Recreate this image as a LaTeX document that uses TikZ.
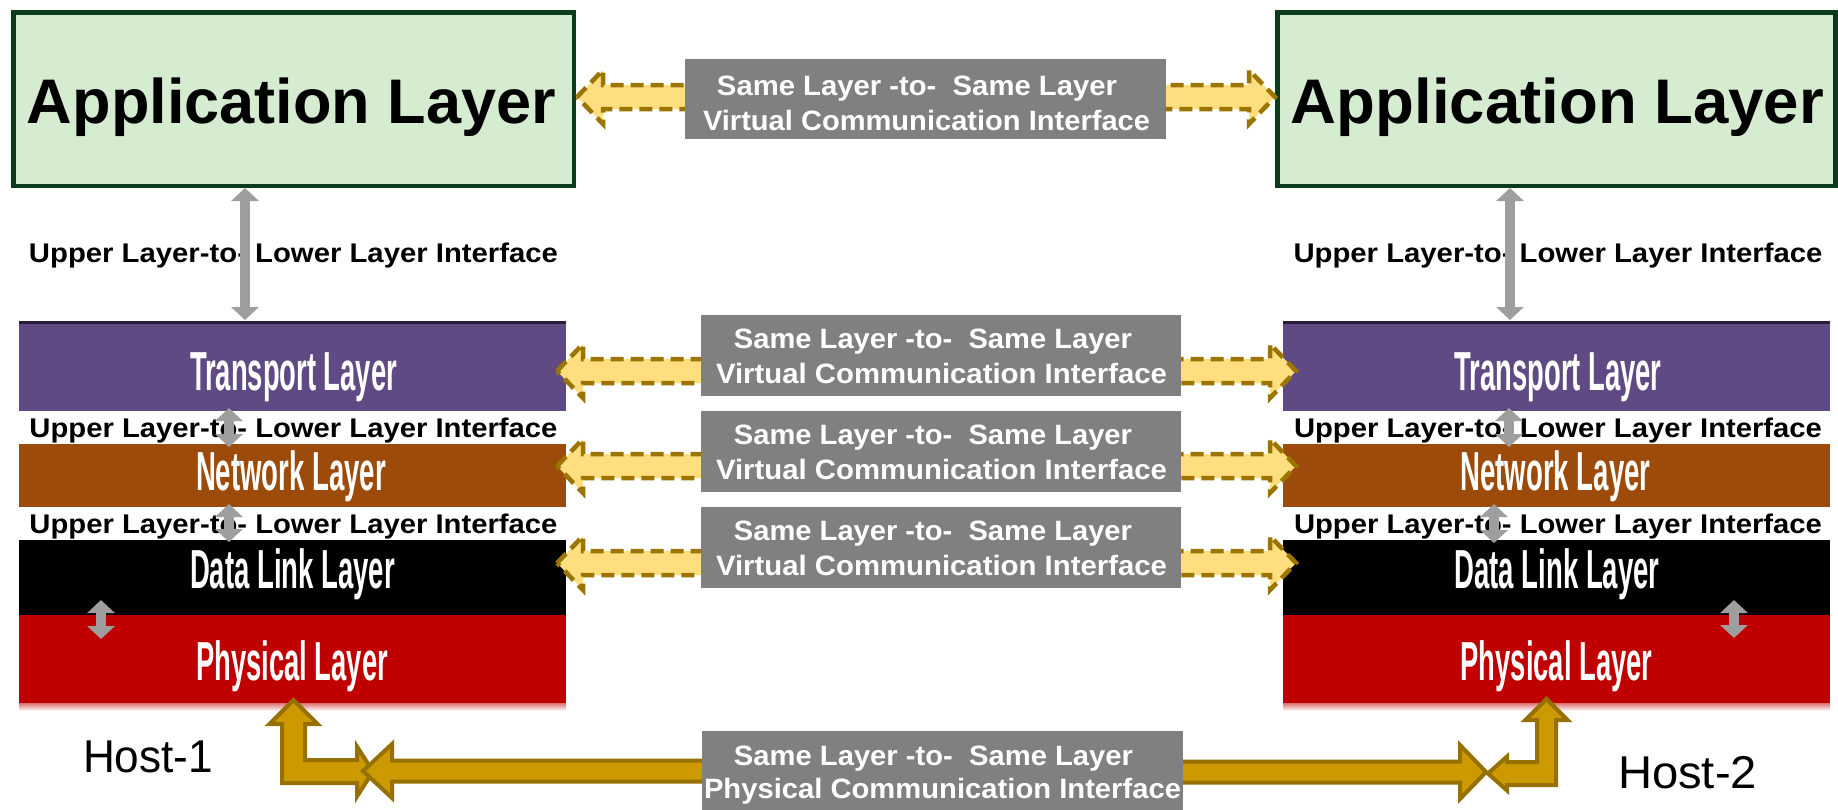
\documentclass[tikz,border=0pt]{standalone}
\usepackage{fontspec}
\setmainfont{Liberation Sans}
\usepackage{graphicx}
\usetikzlibrary{arrows.meta}

\definecolor{appfill}{RGB}{213,236,209}
\definecolor{appdraw}{RGB}{12,58,28}
\definecolor{transcol}{RGB}{96,74,132}
\definecolor{transedge}{RGB}{40,30,60}
\definecolor{netcol}{RGB}{157,75,10}
\definecolor{physcol}{RGB}{192,0,0}
\definecolor{tagcol}{RGB}{128,128,128}
\definecolor{linkgray}{RGB}{158,158,158}
\definecolor{virtfill}{RGB}{255,222,128}
\definecolor{virtdraw}{RGB}{155,117,0}
\definecolor{physfill}{RGB}{204,153,0}
\definecolor{physdraw}{RGB}{150,112,0}

% stretch a text horizontally to a given width, keeping its height
\newcommand\wfit[2]{\resizebox{#1}{\height}{#2}}

% dashed block arrow between two tips on one horizontal line
\newcommand\virtlink[2]{%
  \draw[virt] (#1) -- ([shift={(26,-27)}]#1) -- ([shift={(26,-12)}]#1)
    -- ([shift={(-26,-12)}]#2) -- ([shift={(-26,-27)}]#2) -- (#2)
    -- ([shift={(-26,27)}]#2) -- ([shift={(-26,12)}]#2)
    -- ([shift={(26,12)}]#1) -- ([shift={(26,27)}]#1) -- cycle;}

\begin{document}
\begin{tikzpicture}[x=1pt,y=-1pt,
  slab/.style={inner sep=0pt, outer sep=0pt, anchor=north west, draw=none},
  appbox/.style={draw=appdraw, line width=4.5pt, fill=appfill, inner sep=0pt, outer sep=0pt, anchor=north west},
  apptext/.style={font=\bfseries\fontsize{63}{63}\selectfont, inner sep=0pt, anchor=base},
  iface/.style={font=\bfseries\fontsize{27}{27}\selectfont, inner sep=0pt, anchor=base},
  layertext/.style={font=\bfseries\fontsize{55}{55}\selectfont, text=white, inner sep=0pt, anchor=base},
  tag/.style={fill=tagcol, inner sep=0pt, outer sep=0pt, anchor=north west},
  tagtext/.style={font=\bfseries\fontsize{28}{28}\selectfont, text=white, inner sep=0pt, anchor=base},
  updown/.style={draw=linkgray, line width=10pt, {Triangle[width=27pt,length=13pt]}-{Triangle[width=27pt,length=13pt]}},
  virt/.style={fill=virtfill, draw=virtdraw, line width=4.5pt, dash pattern=on 13pt off 7pt, line join=miter},
  wire/.style={fill=physfill, draw=physdraw, line width=4pt, line join=miter},
  host/.style={font=\fontsize{46}{46}\selectfont, inner sep=0pt, anchor=base}
]
\useasboundingbox (0,0) rectangle (1838,809);
\fill[white] (0,0) rectangle (1838,809);

% ---------- application layer boxes ----------
\node[appbox, minimum width=560.5pt, minimum height=173.5pt] (appL) at (13.25,12.25) {};
\node[appbox, minimum width=558pt, minimum height=173.5pt] (appR) at (1277.25,12.25) {};
\node[apptext] (appLt) at (291.5,123) {\wfit{529pt}{Application Layer}};
\node[apptext] (appRt) at (1557.5,123) {\wfit{533pt}{Application Layer}};

% ---------- layer stacks ----------
\foreach \side/\x in {L/19, R/1283} {
  \node[slab, fill=transcol, minimum width=547pt, minimum height=89pt] (trans\side) at (\x,322) {};
  \node[slab, fill=netcol,   minimum width=547pt, minimum height=63pt] (net\side)   at (\x,444) {};
  \node[slab, fill=black,    minimum width=547pt, minimum height=75pt] (link\side)  at (\x,540) {};
  \node[slab, fill=physcol,  minimum width=547pt, minimum height=88pt] (phys\side)  at (\x,615) {};
  \draw[transedge, line width=3pt] (trans\side.north west) -- (trans\side.north east);
  \shade[top color=physcol!55, bottom color=white] (\x,703) rectangle ++(547,8);
}

% layer captions
\foreach \dx/\side in {0/L, 1264.5/R} {
  \node[layertext] (trans\side t) at (293.5+\dx,390) {\wfit{207pt}{Transport Layer}};
  \node[layertext] (net\side t)   at (291+\dx,490)   {\wfit{190pt}{Network Layer}};
  \node[layertext] (link\side t)  at (292.5+\dx,588) {\wfit{205pt}{Data Link Layer}};
  \node[layertext] (phys\side t)  at (292+\dx,680)   {\wfit{192pt}{Physical Layer}};
}

% upper/lower interface captions
\foreach \cx/\side in {293.5/L, 1558/R} {
  \node[iface] (ifa\side) at (\cx,262) {\wfit{529pt}{Upper Layer-to- Lower Layer Interface}};
  \node[iface] (ifb\side) at (\cx,437) {\wfit{528pt}{Upper Layer-to- Lower Layer Interface}};
  \node[iface] (ifc\side) at (\cx,533) {\wfit{528pt}{Upper Layer-to- Lower Layer Interface}};
}

% ---------- vertical interface arrows ----------
\coordinate (uaL1) at (245,188);  \coordinate (uaL2) at (245,320);
\coordinate (ubL1) at (229,408);  \coordinate (ubL2) at (229,447);
\coordinate (ucL1) at (229,504);  \coordinate (ucL2) at (229,542);
\coordinate (udL1) at (101,600);  \coordinate (udL2) at (101,639);
\coordinate (uaR1) at (1510,188); \coordinate (uaR2) at (1510,320);
\coordinate (ubR1) at (1509,408); \coordinate (ubR2) at (1509,447);
\coordinate (ucR1) at (1494,504); \coordinate (ucR2) at (1494,543);
\coordinate (udR1) at (1734,600); \coordinate (udR2) at (1734,638);
\foreach \a in {a,b,c,d} {
  \draw[updown] (u\a L1) -- (u\a L2);
  \draw[updown] (u\a R1) -- (u\a R2);
}

% ---------- virtual peer links ----------
\coordinate (vaL) at (577,97);  \coordinate (vaR) at (1275,97);
\coordinate (vbL) at (557,371); \coordinate (vbR) at (1296,371);
\coordinate (vcL) at (557,466); \coordinate (vcR) at (1296,466);
\coordinate (vdL) at (557,563); \coordinate (vdR) at (1296,563);
\virtlink{vaL}{vaR}
\virtlink{vbL}{vbR}
\virtlink{vcL}{vcR}
\virtlink{vdL}{vdR}

% ---------- physical link ----------
\draw[wire] (293.5,700) -- (317.5,724) -- (305,724) -- (305,760) -- (357,760)
  -- (357,746.5) -- (373,771.5) -- (357,796.5) -- (357,783) -- (282,783)
  -- (282,724) -- (269.5,724) -- cycle;
\draw[wire] (1546.5,699) -- (1567.5,720) -- (1556,720) -- (1556,785) -- (1507,785)
  -- (1507,790.5) -- (1488,773.5) -- (1507,756.5) -- (1507,762) -- (1537,762)
  -- (1537,720) -- (1525.5,720) -- cycle;
\coordinate (pL) at (363,771); \coordinate (pR) at (1486,772);
\draw[wire] (pL) -- ([shift={(29,-27)}]pL) -- ([shift={(29,-10.5)}]pL) -- (730,760.5)
  -- (730,781.5) -- ([shift={(29,10.5)}]pL) -- ([shift={(29,27)}]pL) -- cycle;
\draw[wire] (pR) -- ([shift={(-26,-27)}]pR) -- ([shift={(-26,-10.5)}]pR) -- (1160,761.5)
  -- (1160,782.5) -- ([shift={(-26,10.5)}]pR) -- ([shift={(-26,27)}]pR) -- cycle;

% ---------- grey captions ----------
\node[tag, minimum width=481pt, minimum height=80pt] (tagA) at (685,59) {};
\node[tagtext] at (917,95)  {\wfit{400pt}{Same Layer -to-\ \ Same Layer}};
\node[tagtext] at (926.5,130) {\wfit{447pt}{Virtual Communication Interface}};
\foreach \n/\y in {B/315, C/411, D/507} {
  \node[tag, minimum width=480pt, minimum height=81pt] (tag\n) at (701,\y) {};
  \node[tagtext] at (933,\y+33)   {\wfit{398pt}{Same Layer -to-\ \ Same Layer}};
  \node[tagtext] at (941.5,\y+68) {\wfit{451pt}{Virtual Communication Interface}};
}
\node[tag, minimum width=481pt, minimum height=80pt] (tagE) at (702,731) {};
\node[tagtext] at (933.5,765) {\wfit{399pt}{Same Layer -to-\ \ Same Layer}};
\node[tagtext] at (942.5,798) {\wfit{477pt}{Physical Communication Interface}};

% ---------- host names ----------
\node[host] (host1) at (148,772)  {\wfit{130pt}{Host-1}};
\node[host] (host2) at (1687.5,788) {\wfit{139pt}{Host-2}};
\end{tikzpicture}
\end{document}
